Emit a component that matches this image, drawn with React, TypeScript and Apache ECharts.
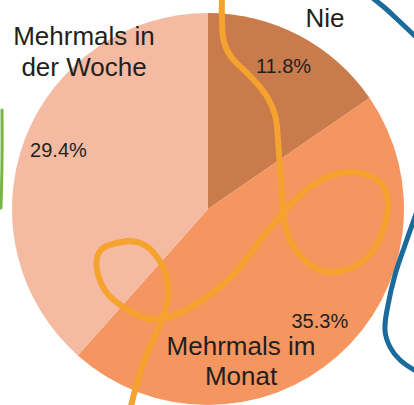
import React, { useEffect, useRef } from "react";
import * as echarts from "echarts";

const categories = ["Nie", "Mehrmals im Monat", "Mehrmals in der Woche"];
const values = [11.8, 35.3, 29.4];
const nameLines = [["Nie"], ["Mehrmals im", "Monat"], ["Mehrmals in", "der Woche"]];
const sliceColors = ["#C97B4B", "#F5955F", "#F5BBA2"];

const orangeCurve: number[][] = [
  [222, -4], [222, 20], [224, 42], [232, 58], [250, 76], [266, 95], [275, 115], [278, 140],
  [280, 170], [282, 195], [284, 218], [289, 238], [298, 253], [312, 266], [328, 272],
  [345, 270], [362, 262], [376, 246], [385, 224], [388, 202], [383, 186], [370, 176],
  [350, 172], [330, 176], [310, 187], [295, 200], [283, 213], [266, 233], [250, 254],
  [230, 278], [205, 298], [182, 312], [162, 319], [145, 318], [125, 308], [107, 293],
  [97, 270], [100, 251], [117, 243], [137, 242], [153, 252], [166, 275], [168, 297],
  [162, 320], [150, 347], [140, 373], [130, 410],
];
const blueTop: number[][] = [[370, -4], [385, 8], [398, 20], [416, 37]];
const blueRight: number[][] = [
  [416, 214], [405, 245], [395, 275], [388, 305], [385, 330], [390, 347], [400, 360], [416, 371],
];
const greenEdge: number[][] = [[2, 110], [2, 160], [1, 208]];

const namePos = [
  { x: 325, y: [18] },
  { x: 241, y: [346, 376] },
  { x: 84, y: [36, 67] },
];
const labelShift = [
  { dx: 1, dy: -1 },
  { dx: 6, dy: -8 },
  { dx: 0, dy: -2 },
];

export default function App() {
  const ref = useRef<HTMLDivElement>(null);
  useEffect(() => {
    if (!ref.current) return;
    const chart = echarts.init(ref.current, null, { renderer: "svg" });
    const data = categories.map((c, i) => ({
      name: c,
      value: values[i],
      itemStyle: { color: sliceColors[i] },
    }));
    const labelData = categories.map((c, i) => ({ name: c, value: values[i] }));
    const texts: any[] = [];
    nameLines.forEach((lines, i) => {
      lines.forEach((t, j) => {
        texts.push({
          type: "text",
          z: 100,
          x: namePos[i].x,
          y: namePos[i].y[j],
          style: {
            text: t,
            font: "26px 'Liberation Sans', Arial, sans-serif",
            fill: "#231F20",
            align: "center",
            verticalAlign: "middle",
          },
        });
      });
    });
    const line = (pts: number[][], color: string, w: number) => ({
      type: "polyline",
      z: 90,
      shape: { points: pts, smooth: 0.4 },
      style: { stroke: color, lineWidth: w, fill: null, lineCap: "round", lineJoin: "round" },
      silent: true,
    });
    chart.setOption({
      animation: false,
      backgroundColor: "#ffffff",
      series: [
        {
          type: "pie",
          center: [208, 209],
          radius: [0, 196],
          startAngle: 90,
          clockwise: true,
          silent: true,
          label: { show: false },
          labelLine: { show: false },
          itemStyle: { borderWidth: 0 },
          data,
        },
        {
          type: "pie",
          center: [208, 209],
          radius: [118, 196],
          startAngle: 90,
          clockwise: true,
          silent: true,
          z: 3,
          itemStyle: { color: "rgba(0,0,0,0)", borderWidth: 0 },
          label: {
            show: true,
            position: "inside",
            formatter: "{c}%",
            fontSize: 20,
            fontFamily: "'Liberation Sans', Arial, sans-serif",
            color: "#231F20",
          },
          labelLayout: (p: any) => labelShift[p.dataIndex] || {},
          labelLine: { show: false },
          data: labelData,
        },
      ],
      graphic: [
        line(orangeCurve, "#F6A22F", 6),
        line(blueTop, "#1A6A9B", 5),
        line(blueRight, "#1A6A9B", 5),
        line(greenEdge, "#78B543", 3),
        ...texts,
      ],
    });
    return () => chart.dispose();
  }, []);
  return (
    <div
      ref={ref}
      style={{ position: "fixed", left: 0, top: 0, width: 414, height: 405 }}
    />
  );
}
